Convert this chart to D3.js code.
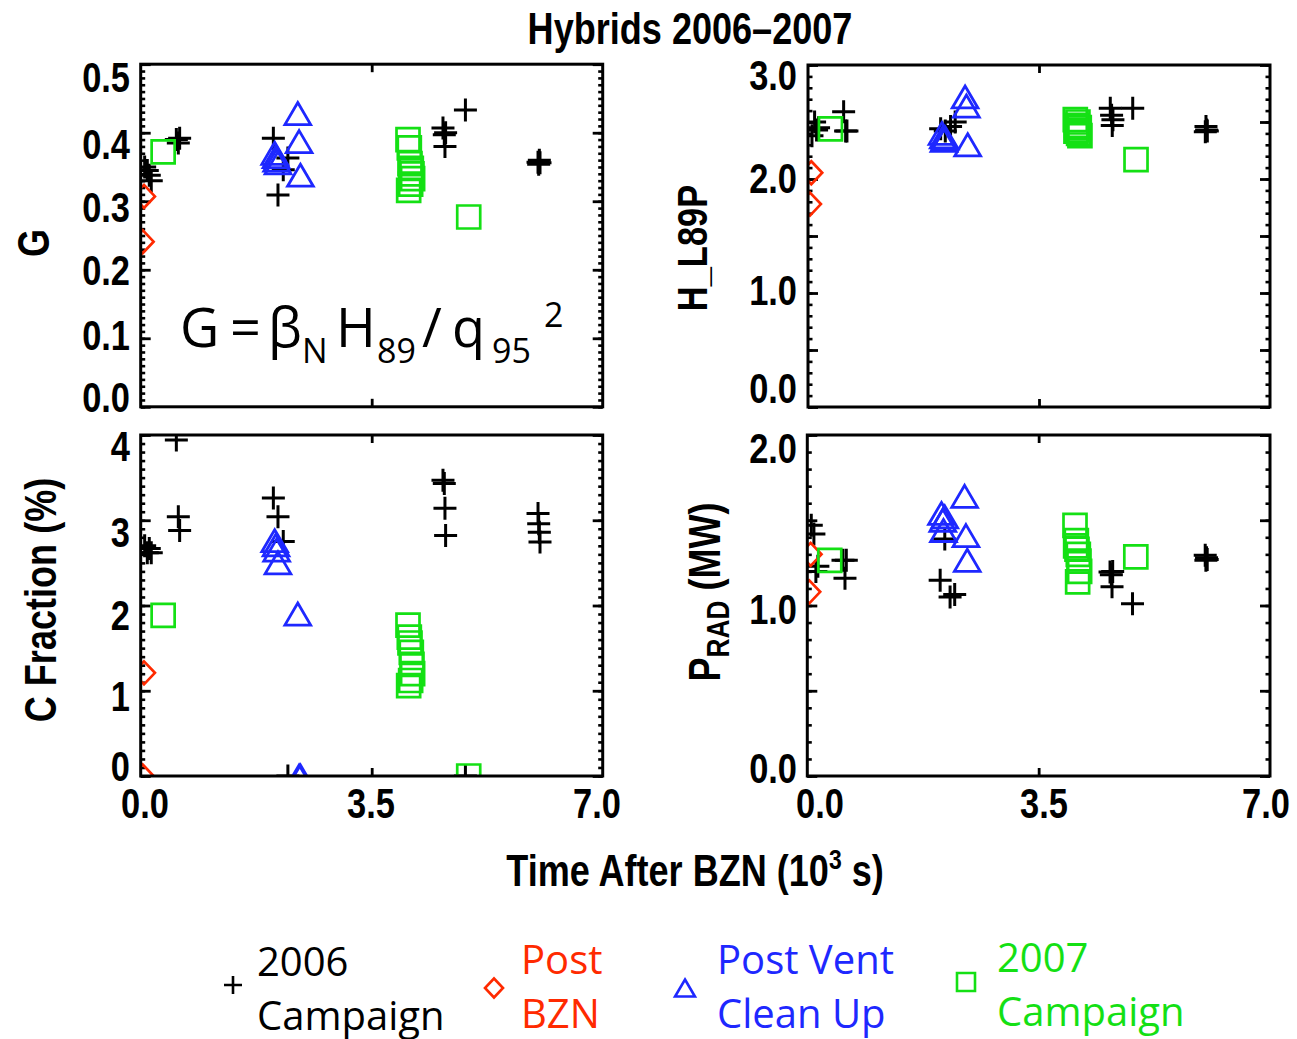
<!DOCTYPE html>
<html><head><meta charset="utf-8">
<script src="https://cdn.jsdelivr.net/npm/d3@7"></script>
<style>
body{margin:0;background:#fff;}
.b{font-family:"Liberation Sans",Arial,sans-serif;font-weight:bold;}
.leg{font-family:"Open Sans","Noto Sans",sans-serif;font-weight:400;}
.fm{font-family:"Open Sans","Noto Sans",sans-serif;font-weight:400;}
</style></head><body>
<svg id="c" width="1297" height="1039"></svg>
<script>
// ---------------- data ----------------
const seriesNames = ["2006 Campaign", "Post BZN", "Post Vent Clean Up", "2007 Campaign"];
const legendLine1 = ["2006", "Post", "Post Vent", "2007"];
const legendLine2 = ["Campaign", "BZN", "Clean Up", "Campaign"];
const seriesColors = ["#000000", "#ff2a00", "#1e28ff", "#14e014"];

// 2006 campaign (+)
const t2006 = [0.06,0.10,0.13,0.16, 0.54,0.57,0.59, 2.01,2.08,2.16,2.23, 4.58,4.60,4.61,4.62, 4.92, 6.02,6.03,6.04,6.05];
const G2006 = [0.350,0.345,0.338,0.330, 0.390,0.385,0.392, 0.392,0.309,0.346,0.363, 0.407,0.397,0.380,0.400, 0.433, 0.357,0.354,0.360,0.356];
const H2006 = [2.38,2.50,2.43,2.45, 2.59,2.42,2.42, 2.44,2.42,2.46,2.50, 2.62,2.56,2.47,2.52, 2.62, 2.415,2.46,2.43,2.42];
const C2006 = [2.70,2.62,2.67,2.62, 3.94,3.04,2.88, 3.26,3.04,2.75,0.0, 3.47,3.43,3.14,2.82, 0.0, 3.08,2.96,2.86,2.745];
const P2006 = [1.47,1.42,1.20,1.23, 1.265,1.16,1.265, 1.148,1.39,1.05,1.064, 1.197,1.18,1.11,1.20, 1.01, 1.294,1.265,1.28,1.27];

// Post BZN (diamond)
const tBZN = [0.05, 0.03];
const GBZN = [0.307, 0.241];
const HBZN = [2.055, 1.78];
const CBZN = [1.21, 0.0];
const PBZN = [1.30, 1.08];

// Post vent clean up (triangle)
const tPV = [2.03,2.05,2.06,2.08, 2.38,2.40,2.42];
const GPV = [0.370,0.365,0.360,0.356, 0.428,0.387,0.338];
const HPV = [2.40,2.37,2.34,2.36, 2.72,2.64,2.30];
const CPV = [2.76,2.71,2.65,2.50, 1.90,0.0,0.0];
const PPV = [1.54,1.50,1.44,1.52, 1.64,1.41,1.265];

// 2007 campaign (square)
const t2007 = [0.34, 4.05,4.07,4.08,4.10,4.11,4.12,4.09,4.06, 4.97];
const G2007 = [0.372, 0.390,0.378,0.355,0.348,0.340,0.333,0.325,0.316, 0.277];
const H2007 = [2.44, 2.52,2.47,2.43,2.40,2.45,2.38,2.50,2.42, 2.17];
const C2007 = [1.885, 1.77,1.63,1.56,1.45,1.31,1.20,1.12,1.06, 0.0];
const P2007 = [1.265, 1.47,1.38,1.33,1.30,1.26,1.20,1.138,1.35, 1.285];

const xTickLabels = ["0.0", "3.5", "7.0"];
const xTickValues = [0, 3.5, 7];
const gTickLabels = ["0.0","0.1","0.2","0.3","0.4","0.5"];
const hTickLabels = ["0.0","1.0","2.0","3.0"];
const cTickLabels = ["0","1","2","3","4"];
const pTickLabels = ["0.0","1.0","2.0"];

const title = "Hybrids 2006\u20132007";

// ---------------- drawing ----------------
const svg = d3.select("#c");
const times = [t2006, tBZN, tPV, t2007];
const shapes = ["plus", "diamond", "triangle", "square"];
const NARROW = 0.82;

// condensed bold text helper
function ntext(x, y, size, anchor, rot) {
  const g = svg.append("g").attr("transform", `translate(${x},${y}) rotate(${rot || 0}) scale(${NARROW},1)`);
  return g.append("text").attr("class", "b").attr("font-size", size).attr("text-anchor", anchor);
}

function markerPath(shape, s) {
  const p = d3.path();
  if (shape === "plus") { p.moveTo(-s,0); p.lineTo(s,0); p.moveTo(0,-s); p.lineTo(0,s); }
  else if (shape === "diamond") { p.moveTo(0,-s); p.lineTo(s*0.95,0); p.lineTo(0,s); p.lineTo(-s*0.95,0); p.closePath(); }
  else if (shape === "triangle") { p.moveTo(0,-s); p.lineTo(s*1.17,s); p.lineTo(-s*1.17,s); p.closePath(); }
  else { p.rect(-s,-s,2*s,2*s); }
  return p.toString();
}
const markerSize = {plus:11.5, diamond:11.5, triangle:11, square:11.5};
const markerStroke = {plus:3, diamond:2.7, triangle:2.8, square:2.7};

const panels = [
  {id:"g", x0:140.7, x1:602.7, top:64.2, bottom:406.8, ydom:[0,0.5], major:0.1, minor:0.01,
   vals:[G2006,GBZN,GPV,G2007], labVals:[0,0.1,0.2,0.3,0.4,0.5], labels:gTickLabels,
   labPos:[397,335,270,207,144,77], labX:130, xlab:null},
  {id:"h", x0:808, x1:1270, top:65, bottom:407, ydom:[0,3], major:0.5, minor:0.1,
   vals:[H2006,HBZN,HPV,H2007], labVals:[0,1,2,3], labels:hTickLabels,
   labPos:[388,290,178,75], labX:797, xlab:null},
  {id:"c", x0:140.7, x1:602.7, top:435, bottom:776, ydom:[0,4], major:1, minor:0.1,
   vals:[C2006,CBZN,CPV,C2007], labVals:[0,1,2,3,4], labels:cTickLabels,
   labPos:[766,696,615,532,446], labX:130, xlab:[145,371,597]},
  {id:"p", x0:807.3, x1:1270, top:435, bottom:776, ydom:[0,2], major:0.5, minor:0.1,
   vals:[P2006,PBZN,PPV,P2007], labVals:[0,1,2], labels:pTickLabels,
   labPos:[768,609,448], labX:797, xlab:[820,1044,1266]}
];

function rng(a, b, step) {
  const n = Math.round((b - a) / step);
  return d3.range(n + 1).map(i => +(a + i * step).toFixed(6));
}

panels.forEach(p => {
  const g = svg.append("g");
  const x = d3.scaleLinear().domain([0, 7]).range([p.x0, p.x1]);
  const y = d3.scaleLinear().domain(p.ydom).range([p.bottom, p.top]);
  const clipId = "clip-" + p.id;
  svg.append("clipPath").attr("id", clipId).append("rect")
    .attr("x", p.x0).attr("y", p.top).attr("width", p.x1 - p.x0).attr("height", p.bottom - p.top);

  const majors = rng(p.ydom[0], p.ydom[1], p.major);
  const minors = rng(p.ydom[0], p.ydom[1], p.minor);
  function styleAxis(sel, w) {
    sel.select(".domain").remove();
    sel.selectAll("line").attr("stroke", "#000").attr("stroke-width", w);
    sel.selectAll("text").remove();
  }
  g.append("g").attr("transform", `translate(${p.x0},0)`)
    .call(d3.axisLeft(y).tickValues(minors).tickSize(-4.5)).call(s => styleAxis(s, 2.6));
  g.append("g").attr("transform", `translate(${p.x0},0)`)
    .call(d3.axisLeft(y).tickValues(majors).tickSize(-10)).call(s => styleAxis(s, 2.8));
  g.append("g").attr("transform", `translate(${p.x1},0)`)
    .call(d3.axisRight(y).tickValues(minors).tickSize(-4.5)).call(s => styleAxis(s, 2.6));
  g.append("g").attr("transform", `translate(${p.x1},0)`)
    .call(d3.axisRight(y).tickValues(majors).tickSize(-10)).call(s => styleAxis(s, 2.8));
  g.append("g").attr("transform", `translate(0,${p.bottom})`)
    .call(d3.axisBottom(x).tickValues([3.5]).tickSize(-8)).call(s => styleAxis(s, 2.8));
  g.append("g").attr("transform", `translate(0,${p.top})`)
    .call(d3.axisTop(x).tickValues([3.5]).tickSize(-8)).call(s => styleAxis(s, 2.8));

  // markers
  const mg = g.append("g").attr("clip-path", `url(#${clipId})`);
  p.vals.forEach((vals, si) => {
    const shape = shapes[si];
    mg.selectAll(null).data(vals.map((v, i) => [times[si][i], v])).enter().append("path")
      .attr("d", markerPath(shape, markerSize[shape]))
      .attr("transform", d => `translate(${x(d[0])},${y(d[1])})`)
      .attr("fill", "none").attr("stroke", seriesColors[si])
      .attr("stroke-width", markerStroke[shape]).attr("stroke-linejoin", "miter");
  });

  // frame
  g.append("rect").attr("x", p.x0).attr("y", p.top).attr("width", p.x1 - p.x0).attr("height", p.bottom - p.top)
    .attr("fill", "none").attr("stroke", "#000").attr("stroke-width", 3);

  // y tick labels
  const labY = d3.scaleLinear().domain(p.labVals).range(p.labPos);
  p.labVals.forEach((v, i) => {
    ntext(p.labX, labY(v), 42, "end").attr("dy", "0.36em").text(p.labels[i]);
  });
  if (p.xlab) {
    const labX = d3.scaleLinear().domain(xTickValues).range(p.xlab);
    xTickValues.forEach((v, i) => {
      ntext(labX(v), 803, 42, "middle").attr("dy", "0.36em").text(xTickLabels[i]);
    });
  }
});

// title
ntext(690, 44, 44, "middle").text(title);

// axis titles
ntext(33, 243, 44, "middle", -90).attr("dy", "0.36em").text("G");
ntext(692, 248, 42, "middle", -90).attr("dy", "0.36em").text("H_L89P");
ntext(40, 600, 44, "middle", -90).attr("dy", "0.36em").text("C Fraction (%)");
const pr = ntext(704, 592, 44, "middle", -90).attr("dy", "0.36em");
pr.append("tspan").text("P");
pr.append("tspan").attr("font-size", 32).attr("dy", "0.3em").text("RAD");
pr.append("tspan").attr("dy", "-0.22em").text(" (MW)");

// x title
const xt = ntext(695, 886, 44, "middle");
xt.append("tspan").text("Time After BZN (10");
xt.append("tspan").attr("font-size", 28).attr("dy", -17).text("3");
xt.append("tspan").attr("dy", 17).text(" s)");

// formula (glyph positions follow the reference)
const fParts = [
  {s:"G", x:180, y:347, fs:54}, {s:"=", x:230, y:347, fs:54}, {s:"\u03B2", x:268, y:347, fs:54},
  {s:"N", x:302, y:363, fs:34}, {s:"H", x:336, y:347, fs:54}, {s:"89", x:377, y:363, fs:34},
  {s:"/", x:422, y:347, fs:54}, {s:"q", x:452, y:347, fs:54}, {s:"95", x:492, y:363, fs:34},
  {s:"2", x:544, y:327, fs:34}
];
const fg = svg.append("g");
fParts.forEach(d => {
  fg.append("text").attr("class", "fm").attr("x", d.x).attr("y", d.y).attr("font-size", d.fs).text(d.s);
});

// legend
const legX = [233, 494, 685, 966];
const legY = [985, 988, 988, 982];
const legTextX = [257, 521, 717, 997];
const legBase1 = [976, 974, 974, 972];
const legBase2 = [1030, 1028, 1028, 1026];
const legSize = {plus:9, diamond:9.5, triangle:8.5, square:9};
seriesNames.forEach((name, i) => {
  const shape = shapes[i];
  svg.append("path").attr("d", markerPath(shape, legSize[shape]))
    .attr("transform", `translate(${legX[i]},${legY[i]})`)
    .attr("fill", "none").attr("stroke", seriesColors[i]).attr("stroke-width", 2.6);
  svg.append("text").attr("class", "leg").attr("x", legTextX[i]).attr("y", legBase1[i])
    .attr("font-size", 40).attr("fill", seriesColors[i]).text(legendLine1[i]);
  svg.append("text").attr("class", "leg").attr("x", legTextX[i]).attr("y", legBase2[i])
    .attr("font-size", 40).attr("fill", seriesColors[i]).text(legendLine2[i]);
});
</script>
</body></html>
